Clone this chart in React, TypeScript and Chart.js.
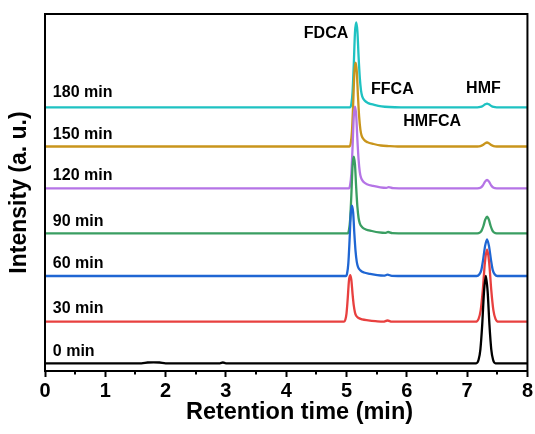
import React, { useEffect, useRef } from "react";
import { Chart, registerables } from "chart.js";

Chart.register(...registerables);

const FONT = '"Liberation Sans", Arial, Helvetica, sans-serif';

// Series (reaction time) labels, colours and vertical stacking offsets (a.u.)
const seriesLabels = ["0 min", "30 min", "60 min", "90 min", "120 min", "150 min", "180 min"];
const seriesColors = ["#000000", "#e8403f", "#1f66d3", "#3a9e62", "#b574e6", "#c9951c", "#1fc2c2"];
const baselines = [7.7, 49.3, 95, 137.7, 182.7, 224.5, 263.7];
const labelLevels = [19, 62.7, 107.7, 149.3, 195, 236, 278.7];

// Peak annotations
const peakNames = ["FDCA", "FFCA", "HMFCA", "HMF"];
const peakLabelX = [4.66, 5.76, 6.42, 7.27];
const peakLabelY = [337.7, 281, 249.3, 282.7];

// Axis texts and ticks
const xTitle = "Retention time (min)";
const yTitle = "Intensity (a. u.)";
const xMin = 0;
const xMax = 8;
const minorTicks = [0.5, 1.5, 2.5, 3.5, 4.5, 5.5, 6.5, 7.5];

// Chromatogram traces: [retention time (min), intensity above baseline (a.u.)]
const trace0min: [number, number][] = [
  [0, 0], [1.6, 0], [1.7, 0.8], [1.8, 1], [1.9, 0.8], [2.0, 0], [2.9, 0], [2.95, 0.8], [3.0, 0],
  [7.15, 0], [7.19, 3.5], [7.22, 14], [7.25, 38.4], [7.28, 71.6], [7.31, 87.3], [7.34, 71.6],
  [7.37, 38.4], [7.40, 14], [7.43, 3.5], [7.47, 0], [8, 0],
];
const trace30min: [number, number][] = [
  [0, 0], [4.96, 0], [4.98, 1.9], [5.0, 8.4], [5.02, 23.3], [5.04, 40.9], [5.06, 46.5], [5.08, 41.9],
  [5.1, 27.9], [5.12, 16.3], [5.14, 9.3], [5.16, 6.0], [5.2, 3.7], [5.26, 2.3], [5.36, 1.4], [5.48, 0.6],
  [5.61, 0], [5.68, 1.2], [5.75, 0], [7.14, 0], [7.19, 2.9], [7.225, 11.6], [7.26, 31.9], [7.295, 59.4],
  [7.33, 72.4], [7.365, 59.4], [7.4, 31.9], [7.435, 11.6], [7.47, 2.9], [7.52, 0], [8, 0],
];
const trace60min: [number, number][] = [
  [0, 0], [4.99, 0], [5.01, 2.8], [5.03, 12.7], [5.05, 35.2], [5.07, 61.9], [5.09, 70.3], [5.11, 63.3],
  [5.13, 42.2], [5.15, 24.6], [5.17, 14.1], [5.19, 9.1], [5.23, 5.6], [5.29, 3.5], [5.39, 2.1], [5.51, 0.8],
  [5.62, 0.3], [5.68, 1.3], [5.75, 0.1], [5.85, 0], [7.16, 0], [7.2, 1.5], [7.235, 5.9], [7.265, 16.1],
  [7.298, 30.1], [7.33, 36.7], [7.362, 30.1], [7.395, 16.1], [7.425, 5.9], [7.46, 1.5], [7.5, 0], [8, 0],
];
const trace90min: [number, number][] = [
  [0, 0], [5.02, 0], [5.04, 3.1], [5.06, 13.8], [5.08, 38.3], [5.1, 67.4], [5.12, 76.6], [5.14, 68.9],
  [5.16, 46], [5.18, 26.8], [5.2, 15.3], [5.22, 10], [5.26, 6.1], [5.32, 3.8], [5.42, 2.3], [5.54, 0.9],
  [5.64, 0.4], [5.69, 1.3], [5.76, 0.1], [5.86, 0], [7.17, 0], [7.21, 0.7], [7.24, 2.7], [7.27, 7.3],
  [7.3, 13.6], [7.33, 16.6], [7.36, 13.6], [7.39, 7.3], [7.42, 2.7], [7.45, 0.7], [7.49, 0], [8, 0],
];
const trace120min: [number, number][] = [
  [0, 0], [5.04, 0], [5.06, 3.3], [5.08, 14.7], [5.1, 40.8], [5.12, 71.8], [5.14, 81.6], [5.16, 73.4],
  [5.18, 49], [5.2, 28.6], [5.22, 16.3], [5.24, 10.6], [5.28, 6.5], [5.34, 4.1], [5.44, 2.4], [5.56, 1],
  [5.66, 0.5], [5.7, 1.2], [5.77, 0.1], [5.87, 0], [7.17, 0], [7.22, 0.5], [7.26, 2.8], [7.3, 6.9],
  [7.33, 8.3], [7.36, 6.9], [7.4, 2.8], [7.44, 0.5], [7.49, 0], [8, 0],
];
const trace150min: [number, number][] = [
  [0, 0], [5.05, 0], [5.07, 3.4], [5.09, 15.1], [5.11, 41.9], [5.13, 73.7], [5.15, 83.8], [5.17, 75.4],
  [5.19, 50.3], [5.21, 29.3], [5.23, 16.8], [5.25, 10.9], [5.29, 6.7], [5.35, 4.2], [5.45, 2.5], [5.57, 1],
  [5.7, 0.4], [5.85, 0], [7.17, 0], [7.22, 0.3], [7.26, 1.4], [7.3, 3.3], [7.33, 4], [7.36, 3.3],
  [7.4, 1.4], [7.44, 0.3], [7.49, 0], [8, 0],
];
const trace180min: [number, number][] = [
  [0, 0], [5.06, 0], [5.08, 3.4], [5.1, 15.3], [5.12, 42.4], [5.14, 74.6], [5.16, 84.8], [5.18, 76.3],
  [5.2, 50.9], [5.22, 29.7], [5.24, 17], [5.26, 11], [5.3, 6.8], [5.36, 4.2], [5.46, 2.5], [5.58, 1],
  [5.71, 0.3], [5.9, 0], [7.17, 0], [7.22, 0.4], [7.26, 1.4], [7.3, 3.0], [7.33, 3.7], [7.36, 3.0],
  [7.4, 1.4], [7.44, 0.4], [7.49, 0], [8, 0],
];

const traces = [trace0min, trace30min, trace60min, trace90min, trace120min, trace150min, trace180min];

const decorPlugin = {
  id: "decor",
  afterDatasetsDraw(chart: any) {
    const { ctx, chartArea: a, scales } = chart;
    const xs = scales.x;
    const ys = scales.y;
    ctx.save();
    ctx.strokeStyle = "#000";
    ctx.lineWidth = 2;
    ctx.strokeRect(a.left, a.top, a.right - a.left, a.bottom - a.top);
    minorTicks.forEach((v) => {
      const px = Math.round(xs.getPixelForValue(v));
      ctx.beginPath();
      ctx.moveTo(px, a.bottom);
      ctx.lineTo(px, a.bottom + 3.5);
      ctx.stroke();
    });
    ctx.fillStyle = "#000";
    ctx.textBaseline = "middle";
    ctx.textAlign = "left";
    ctx.font = `bold 16px ${FONT}`;
    seriesLabels.forEach((s, i) => {
      ctx.fillText(s, xs.getPixelForValue(0.13), ys.getPixelForValue(labelLevels[i]));
    });
    ctx.textAlign = "center";
    peakNames.forEach((s, i) => {
      ctx.fillText(s, xs.getPixelForValue(peakLabelX[i]), ys.getPixelForValue(peakLabelY[i]));
    });
    // axis titles
    ctx.font = `bold 23.5px ${FONT}`;
    ctx.fillText(xTitle, xs.getPixelForValue(4.22), 413);
    ctx.save();
    ctx.translate(20, (a.top + a.bottom) / 2);
    ctx.rotate(-Math.PI / 2);
    ctx.font = `bold 23px ${FONT}`;
    ctx.fillText(yTitle, 0, 0);
    ctx.restore();
    ctx.restore();
  },
};

export default function App() {
  const ref = useRef<HTMLCanvasElement | null>(null);
  useEffect(() => {
    document.body.style.margin = "0";
    const canvas = ref.current;
    if (!canvas) return;
    const datasets = traces.map((tr, i) => ({
      label: seriesLabels[i],
      data: tr.map(([x, y]) => ({ x, y: baselines[i] + y })),
      borderColor: seriesColors[i],
      backgroundColor: seriesColors[i],
      borderWidth: 2.3,
      pointRadius: 0,
      cubicInterpolationMode: "monotone" as const,
      fill: false,
    }));
    const chart = new Chart(canvas, {
      type: "line",
      data: { datasets },
      options: {
        responsive: false,
        animation: false,
        devicePixelRatio: 1,
        layout: { padding: { top: 14, right: 6, left: 0, bottom: 0 } },
        plugins: { legend: { display: false }, tooltip: { enabled: false } },
        scales: {
          x: {
            type: "linear",
            min: xMin,
            max: xMax,
            afterFit: (s: any) => {
              s.height = 63;
            },
            ticks: {
              stepSize: 1,
              color: "#000",
              font: { family: FONT, size: 20, weight: "bold" },
              padding: 2,
            },
            grid: {
              display: true,
              drawOnChartArea: false,
              drawTicks: true,
              tickLength: 6,
              tickWidth: 2,
              tickColor: "#000",
            },
            border: { display: true, color: "#000", width: 2 },
            title: { display: false },
          },
          y: {
            type: "linear",
            min: 0,
            max: 357,
            afterFit: (s: any) => {
              s.width = 45;
            },
            ticks: { display: false },
            grid: { display: false, drawTicks: false },
            border: { display: true, color: "#000", width: 2 },
            title: { display: false },
          },
        },
      },
      plugins: [decorPlugin],
    });
    return () => chart.destroy();
  }, []);
  return (
    <div style={{ width: 535, height: 434 }}>
      <canvas ref={ref} width={535} height={434} />
    </div>
  );
}
